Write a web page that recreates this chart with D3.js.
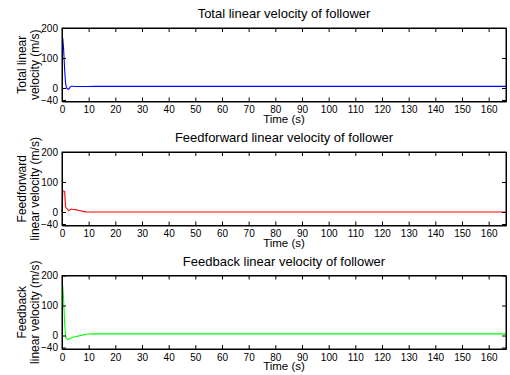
<!DOCTYPE html>
<html>
<head>
<meta charset="utf-8">
<script src="https://cdn.jsdelivr.net/npm/d3@7"></script>
<style>
  body { margin: 0; background: #fff; }
  text { font-family: "Liberation Sans", Arial, sans-serif; fill: #000; }
</style>
</head>
<body>
<script>
// chart data
var time = [0, 0.3, 0.6, 1.0, 1.3, 1.6, 2.0, 2.5, 3.0, 3.5, 4, 5, 6, 7, 8, 9, 10, 12, 15, 20, 40, 80, 120, 166.5];
var totalVel = [168, 165, 130, 60, 20, 2, -3, -4, 2, 6, 6, 5, 5, 5, 5, 5, 5, 5.5, 5.5, 5.5, 5.5, 5.5, 5.5, 5.5];
var ffVel = [0, 70, 70, 68, 18, 14, 10, 4, 7, 10, 9, 8, 6, 4, 2, 0.5, 0, 0, 0, 0, 0, 0, 0, 0];
var fbVel = [168, 165, 120, 40, 0, -10, -14, -12, -10, -8, -6, -4, -2, 0, 2, 4, 5, 5.5, 5.5, 5.5, 5.5, 5.5, 5.5, 5.5];
var xTicks = d3.range(0, 161, 10);
var yTicks = [-40, 0, 100, 200];

var panels = [
  {title: "Total linear velocity of follower", ylab: ["Total linear", "velocity (m/s)"], values: totalVel, color: "#0000ff", top: 28},
  {title: "Feedforward linear velocity of follower", ylab: ["Feedforward", "linear velocity (m/s)"], values: ffVel, color: "#ff0000", top: 152},
  {title: "Feedback linear velocity of follower", ylab: ["Feedback", "linear velocity (m/s)"], values: fbVel, color: "#00ff00", top: 275.5}
];

var left = 62, right = 506, ph = 73.5;
var width = 510, height = 375;

var svg = d3.select("body")
    .append("svg")
        .attr("width", width)
        .attr("height", height);

var x = d3.scaleLinear().domain([0, 166.5]).range([left, right]);

panels.forEach(function(p) {
    var y = d3.scaleLinear().domain([-45, 200]).range([p.top + ph, p.top]);
    var g = svg.append("g");

    var line = d3.line()
        .x(function(d, i) { return x(time[i]); })
        .y(function(d) { return y(d); });

    g.append("path")
        .datum(p.values)
        .attr("d", line)
        .attr("fill", "none")
        .attr("stroke", p.color)
        .attr("stroke-width", 1.1);

    // axes, ticks pointing inward
    g.append("g")
        .attr("transform", "translate(0," + (p.top + ph) + ")")
        .call(d3.axisBottom(x).tickValues(xTicks).tickSizeInner(-4).tickSizeOuter(0).tickPadding(4.5));
    g.append("g")
        .attr("transform", "translate(0," + p.top + ")")
        .call(d3.axisTop(x).tickValues(xTicks).tickSizeInner(-4).tickSizeOuter(0).tickFormat(""));
    g.append("g")
        .attr("transform", "translate(" + left + ",0)")
        .call(d3.axisLeft(y).tickValues(yTicks).tickSizeInner(-4).tickSizeOuter(0).tickPadding(4));
    g.append("g")
        .attr("transform", "translate(" + right + ",0)")
        .call(d3.axisRight(y).tickValues(yTicks).tickSizeInner(-4).tickSizeOuter(0).tickFormat(""));

    g.selectAll(".domain").attr("stroke", "#000");
    g.selectAll(".tick line").attr("stroke", "#000");
    g.selectAll(".tick text").attr("font-size", "10px").attr("fill", "#000")
        .style("font-family", "'Liberation Sans', Arial, sans-serif");

    g.append("rect")
        .attr("x", left).attr("y", p.top)
        .attr("width", right - left).attr("height", ph)
        .attr("fill", "none").attr("stroke", "#000").attr("stroke-width", 1);

    g.append("text")
        .text(p.title)
        .attr("x", (left + right) / 2)
        .attr("y", p.top - 10)
        .attr("text-anchor", "middle")
        .attr("font-size", "13px");

    g.append("text")
        .text("Time (s)")
        .attr("x", (left + right) / 2)
        .attr("y", p.top + ph + 21)
        .attr("text-anchor", "middle")
        .attr("font-size", "11.5px");

    p.ylab.forEach(function(s, i) {
        g.append("text")
            .text(s)
            .attr("text-anchor", "middle")
            .attr("font-size", "12px")
            .attr("transform", "translate(" + (26 + i * 13) + "," + (p.top + ph / 2) + ") rotate(-90)");
    });
});
</script>
</body>
</html>
